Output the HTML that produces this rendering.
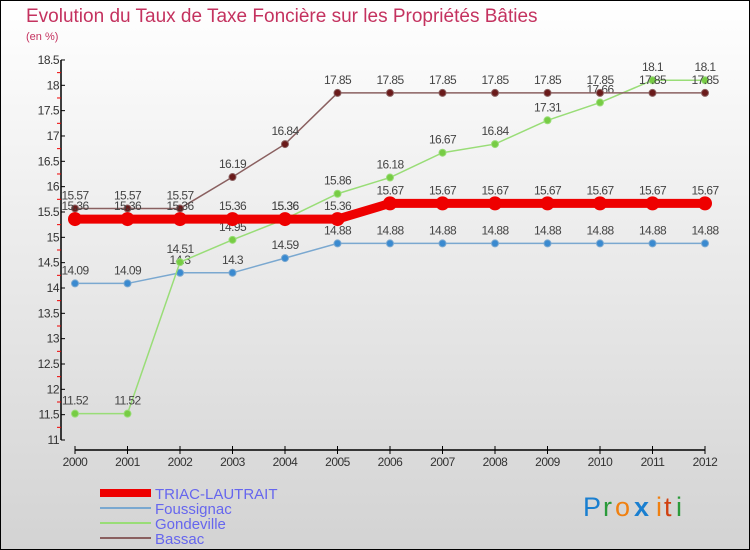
<!DOCTYPE html>
<html><head><meta charset="utf-8"><style>
body{margin:0}
#c{width:750px;height:550px;position:relative;overflow:hidden}
svg text{font-family:"Liberation Sans",sans-serif}
</style></head><body>
<div id="c">
<svg id="s" width="750" height="550" xmlns="http://www.w3.org/2000/svg">
<defs><linearGradient id="bg" x1="0" y1="0" x2="0" y2="1"><stop offset="0" stop-color="#ffffff"/><stop offset="1" stop-color="#d3d3d3"/></linearGradient></defs>
<rect x="0.5" y="0.5" width="749" height="549" fill="url(#bg)" stroke="#000"/>
<text x="26" y="22" font-size="19" fill="#c4325f">Evolution du Taux de Taxe Foncière sur les Propriétés Bâties</text>
<text x="26" y="40" font-size="11" fill="#c4325f">(en %)</text>
<g id="axes"></g><g id="series"></g>
<g>
<rect x="100" y="489" width="51" height="8" fill="#e00"/>
<text x="155" y="499" font-size="15" fill="#6666ee">TRIAC-LAUTRAIT</text>
<rect x="100" y="507" width="51" height="2" fill="#7aa8d0"/>
<text x="155" y="514" font-size="15" fill="#6666ee">Foussignac</text>
<rect x="100" y="522" width="51" height="2" fill="#99dd77"/>
<text x="155" y="529" font-size="15" fill="#6666ee">Gondeville</text>
<rect x="100" y="537" width="51" height="2" fill="#8a6060"/>
<text x="155" y="544" font-size="15" fill="#6666ee">Bassac</text>
</g>
<g font-size="27" style="font-family:'DejaVu Sans',sans-serif">
<text x="583" y="516" fill="#1a7fd0">P</text><text x="603" y="516" fill="#2a9a3a">r</text><text x="615" y="516" fill="#f08010">o</text><text x="634" y="516" fill="#1a7fd0" font-weight="bold">x</text><text x="656" y="516" fill="#f08010">i</text><text x="664" y="516" fill="#d04010">t</text><text x="676" y="516" fill="#2a9a3a">i</text>
</g>
</svg></div>
<script>
const years=[2000,2001,2002,2003,2004,2005,2006,2007,2008,2009,2010,2011,2012];
const yTicks=[11,11.5,12,12.5,13,13.5,14,14.5,15,15.5,16,16.5,17,17.5,18,18.5];
const triac=[15.36,15.36,15.36,15.36,15.36,15.36,15.67,15.67,15.67,15.67,15.67,15.67,15.67];
const foussignac=[14.09,14.09,14.3,14.3,14.59,14.88,14.88,14.88,14.88,14.88,14.88,14.88,14.88];
const gondeville=[11.52,11.52,14.51,14.95,15.36,15.86,16.18,16.67,16.84,17.31,17.66,18.1,18.1];
const bassac=[15.57,15.57,15.57,16.19,16.84,17.85,17.85,17.85,17.85,17.85,17.85,17.85,17.85];
const NS='http://www.w3.org/2000/svg';
const xS=i=>75+i*52.5;
const yS=v=>440-(v-11)*50.67;
function mk(t,a,p){const e=document.createElementNS(NS,t);for(const k in a)e.setAttribute(k,a[k]);p.appendChild(e);return e;}
const ax=document.getElementById('axes');
let yl=mk('line',{x1:61,y1:yS(18.5),x2:61,y2:yS(11),stroke:'#000','stroke-width':1.5},ax);


yTicks.forEach(v=>{
  mk('line',{x1:61,y1:yS(v),x2:65,y2:yS(v),stroke:'#000'},ax);
  if(v<18.5) mk('line',{x1:57,y1:yS(v+0.25),x2:61,y2:yS(v+0.25),stroke:'#e00'},ax);
  const t=mk('text',{x:59,y:yS(v)+4,'font-size':12,fill:'#333','text-anchor':'end','letter-spacing':'-0.5'},ax);
  t.textContent=String(v);
  
  
});
let xl=mk('line',{x1:75,y1:450,x2:705,y2:450,stroke:'#000','stroke-width':1.5},ax);


years.forEach((y,i)=>{
  mk('line',{x1:xS(i),y1:446,x2:xS(i),y2:454,stroke:'#000'},ax);
  const t=mk('text',{x:xS(i),y:466,'font-size':12,fill:'#333','text-anchor':'middle','letter-spacing':'-0.5'},ax);
  t.textContent=String(y);
  
  
});
const sg=document.getElementById('series');
function draw(vals,name,line,dot,lw,r){
  const g=mk('g',{},sg);
  
  
  mk('polyline',{points:vals.map((v,i)=>xS(i)+','+yS(v)).join(' '),fill:'none',stroke:line,'stroke-width':lw},g);
  vals.forEach((v,i)=>{
    const c=mk('circle',{cx:xS(i),cy:yS(v),r:r,fill:dot,stroke:line,'stroke-width':1},g);
    
    
    const t=mk('text',{x:xS(i),y:yS(v)-9,'font-size':12,fill:'#444','text-anchor':'middle','letter-spacing':'-0.6'},g);
    t.textContent=String(v);
    
    
  });
}
draw(foussignac,'foussignac','#7aa8d0','#3a8ad0',1.5,3.5);
draw(gondeville,'gondeville','#99dd77','#77cc44',1.5,3.5);
draw(bassac,'bassac','#8a6060','#6a1a1a',1.5,3.5);
draw(triac,'triac','#ee0000','#ee0000',9,6.5);
</script>
</body></html>
